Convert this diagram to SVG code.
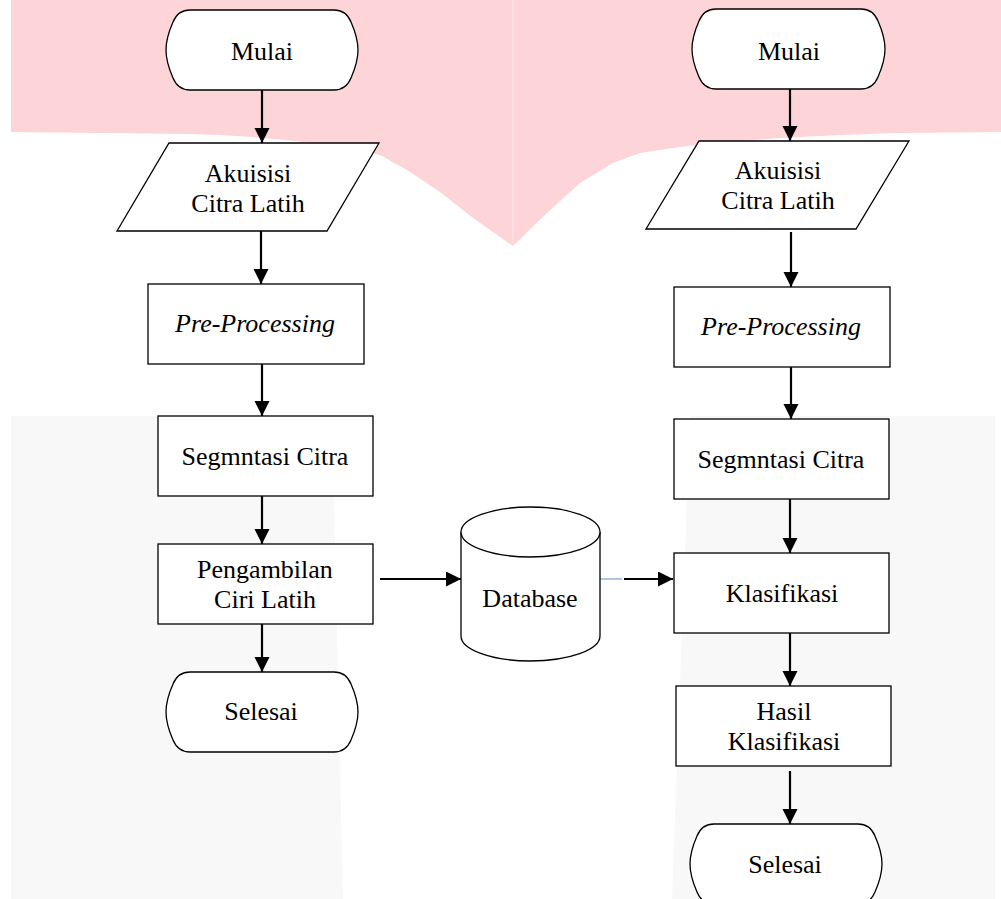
<svg xmlns="http://www.w3.org/2000/svg" width="1001" height="899" viewBox="0 0 1001 899">
<defs>
<style>
.shape{fill:#ffffff;stroke:#000000;stroke-width:1.3}
.t{font-family:"Liberation Serif","Times New Roman",serif;font-size:26px;fill:#000000;text-anchor:middle}
.it{font-style:italic}
.c{stroke:#000000;stroke-width:2.2;fill:none}
</style>
<marker id="ah" markerUnits="userSpaceOnUse" markerWidth="16" markerHeight="16" refX="15" refY="7.5" orient="auto">
<path d="M0,0 L15,7.5 L0,15 Z" fill="#000000"/>
</marker>
</defs>
<g id="background">
<rect x="0" y="0" width="1001" height="899" fill="#ffffff"/>
<path d="M11,0 H1001 V132 L900,133 Q760,137 680,147 L640,153 L613,163 L580,183 L547,213 L513,246 L473,218 L440,192 L407,170 L380,155 Q300,137 190,134 L11,132 Z" fill="#fdd5d9"/>
<line x1="513" y1="0" x2="513" y2="243" stroke="#fde2e5" stroke-width="1.5"/>
<rect x="11" y="416" width="984" height="483" fill="#f8f8f8"/>
<polygon points="332,416 690,416 672,899 343,899" fill="#ffffff"/>
</g>
<g id="connectors">
<line class="c" x1="262" y1="90" x2="262" y2="143" marker-end="url(#ah)"/>
<line class="c" x1="261" y1="231" x2="261" y2="284" marker-end="url(#ah)"/>
<line class="c" x1="262" y1="364" x2="262" y2="416" marker-end="url(#ah)"/>
<line class="c" x1="262" y1="496" x2="262" y2="544" marker-end="url(#ah)"/>
<line class="c" x1="262" y1="624" x2="262" y2="672" marker-end="url(#ah)"/>
<line class="c" x1="790" y1="89" x2="790" y2="141" marker-end="url(#ah)"/>
<line class="c" x1="791" y1="232" x2="791" y2="287" marker-end="url(#ah)"/>
<line class="c" x1="791" y1="367" x2="791" y2="419" marker-end="url(#ah)"/>
<line class="c" x1="790" y1="499" x2="790" y2="553" marker-end="url(#ah)"/>
<line class="c" x1="790" y1="633" x2="790" y2="686" marker-end="url(#ah)"/>
<line class="c" x1="790" y1="771" x2="790" y2="824" marker-end="url(#ah)"/>
<line class="c" x1="380" y1="579" x2="461" y2="579" stroke-width="3" marker-end="url(#ah)"/>
<line x1="600" y1="579" x2="622" y2="579" stroke="#8fb4e0" stroke-width="1.5"/>
<line class="c" x1="624" y1="579" x2="673" y2="579" marker-end="url(#ah)"/>
</g>
<g id="start-left">
<path class="shape" d="M190,10 H334 Q346,10 351,22 Q358,38 358,50 Q358,62 351,78 Q346,90 334,90 H190 Q178,90 173,78 Q166,62 166,50 Q166,38 173,22 Q178,10 190,10 Z"/>
<text class="t" x="262" y="60">Mulai</text>
</g>
<g id="input-left">
<polygon class="shape" points="169,143 379,143 327,231 117,231"/>
<text class="t" x="248" y="182">Akuisisi</text>
<text class="t" x="248" y="212">Citra Latih</text>
</g>
<g id="preprocessing-left">
<rect class="shape" x="148" y="284" width="216" height="80"/>
<text class="t it" x="255" y="332">Pre-Processing</text>
</g>
<g id="segmentasi-left">
<rect class="shape" x="158" y="416" width="215" height="80"/>
<text class="t" x="265" y="465">Segmntasi Citra</text>
</g>
<g id="pengambilan-left">
<rect class="shape" x="158" y="544" width="215" height="80"/>
<text class="t" x="265" y="578">Pengambilan</text>
<text class="t" x="265" y="608">Ciri Latih</text>
</g>
<g id="end-left">
<path class="shape" d="M190,672 H334 Q346,672 351,684 Q358,700 358,712 Q358,724 351,740 Q346,752 334,752 H190 Q178,752 173,740 Q166,724 166,712 Q166,700 173,684 Q178,672 190,672 Z"/>
<text class="t" x="261" y="720">Selesai</text>
</g>
<g id="database">
<path class="shape" d="M461,532 A69.5,25 0 0 1 600,532 V636 A69.5,25 0 0 1 461,636 Z"/>
<path class="shape" d="M461,532 A69.5,25 0 0 0 600,532" fill="none"/>
<text class="t" x="530" y="607">Database</text>
</g>
<g id="start-right">
<path class="shape" d="M716,9 H861 Q873,9 878,21 Q885,37 885,49 Q885,61 878,77 Q873,89 861,89 H716 Q704,89 699,77 Q692,61 692,49 Q692,37 699,21 Q704,9 716,9 Z"/>
<text class="t" x="789" y="60">Mulai</text>
</g>
<g id="input-right">
<polygon class="shape" points="699,141 909,141 856,229 646,229"/>
<text class="t" x="778" y="179">Akuisisi</text>
<text class="t" x="778" y="209">Citra Latih</text>
</g>
<g id="preprocessing-right">
<rect class="shape" x="674" y="287" width="216" height="80"/>
<text class="t it" x="781" y="335">Pre-Processing</text>
</g>
<g id="segmentasi-right">
<rect class="shape" x="674" y="419" width="215" height="80"/>
<text class="t" x="781" y="468">Segmntasi Citra</text>
</g>
<g id="klasifikasi">
<rect class="shape" x="674" y="553" width="215" height="80"/>
<text class="t" x="782" y="602">Klasifikasi</text>
</g>
<g id="hasil">
<rect class="shape" x="676" y="686" width="215" height="80"/>
<text class="t" x="784" y="720">Hasil</text>
<text class="t" x="784" y="750">Klasifikasi</text>
</g>
<g id="end-right">
<path class="shape" d="M714,824 H858 Q870,824 875,836 Q882,852 882,864 Q882,876 875,892 Q870,904 858,904 H714 Q702,904 697,892 Q690,876 690,864 Q690,852 697,836 Q702,824 714,824 Z"/>
<text class="t" x="785" y="873">Selesai</text>
</g>
</svg>
